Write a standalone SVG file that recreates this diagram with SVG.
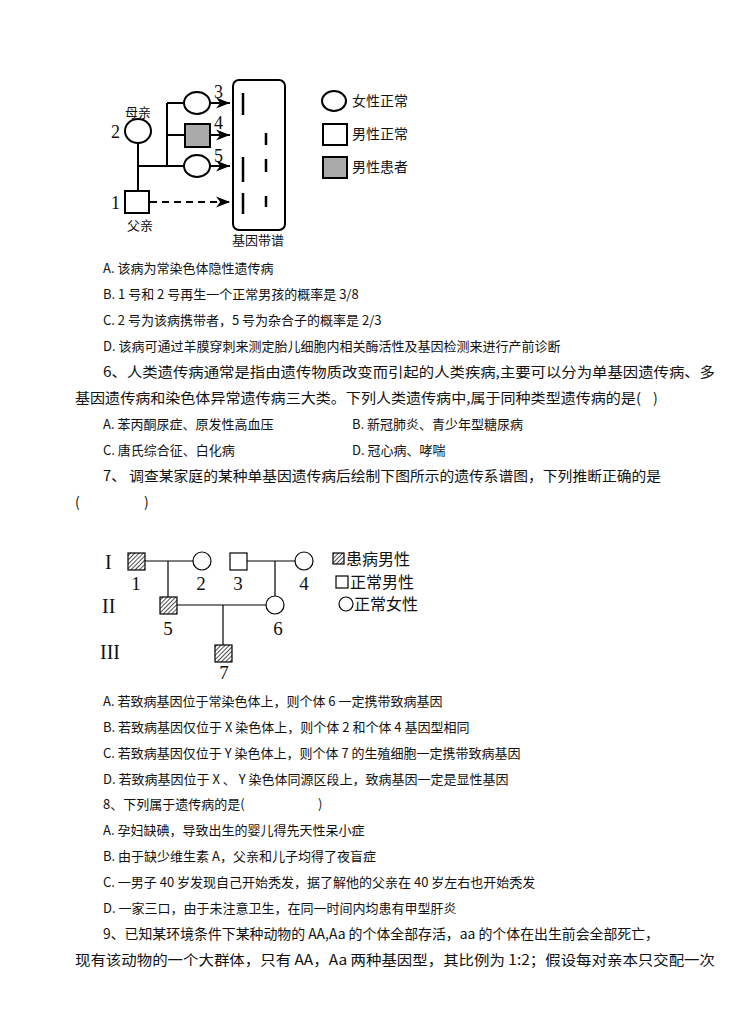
<svg xmlns="http://www.w3.org/2000/svg" width="737" height="1021" viewBox="0 0 737 1021">
<defs>
<style>
text{font-family:"Noto Sans CJK SC","Liberation Serif",serif;fill:#111}
.s{font-family:"Liberation Serif","Noto Sans CJK SC",serif}
.l{stroke:#000;stroke-width:2}
.t{stroke:#000;stroke-width:1.2}
.band{stroke:#000;stroke-width:2.5}
</style>
<marker id="ar" viewBox="0 0 10 10" refX="10" refY="5" markerWidth="7" markerHeight="7" orient="auto"><path d="M0,1 L10,5 L0,9 L3,5 Z" fill="#000"/></marker>
<pattern id="h" width="3" height="3" patternUnits="userSpaceOnUse" patternTransform="rotate(45)"><rect width="3" height="3" fill="#fff"/><line x1="0" y1="0" x2="0" y2="3" stroke="#000" stroke-width="1.4"/></pattern>
</defs>
<rect width="737" height="1021" fill="#fff"/>
<g id="connectors1" fill="none">
<path class="l" d="M138,144 V191 M138,166 H184 M167,103 V166 M167,103 H184 M167,135 H185"/>
<line class="l" x1="210" y1="103" x2="230" y2="103" marker-end="url(#ar)"/>
<line class="l" x1="210" y1="135" x2="230" y2="135" marker-end="url(#ar)"/>
<line class="l" x1="210" y1="166" x2="230" y2="166" marker-end="url(#ar)"/>
<line class="l" x1="150" y1="202" x2="230" y2="202" stroke-dasharray="7,5" marker-end="url(#ar)"/>
</g>
<g id="n2"><ellipse class="l" cx="138" cy="131" rx="13" ry="12" fill="#fff"/><text x="138" y="117" text-anchor="middle" font-size="13">母亲</text><text class="s" x="111" y="138" font-size="18">2</text></g>
<g id="n1"><rect class="l" x="125" y="191" width="24" height="22" fill="#fff"/><text class="s" x="111" y="209" font-size="18">1</text><text x="140" y="230" text-anchor="middle" font-size="13">父亲</text></g>
<g id="n3"><ellipse class="l" cx="197" cy="103" rx="13" ry="11" fill="#fff"/><text class="s" x="214" y="98" font-size="18">3</text></g>
<g id="n4"><rect class="l" x="185" y="124" width="25" height="23" fill="#aaa"/><text class="s" x="214" y="129" font-size="18">4</text></g>
<g id="n5"><ellipse class="l" cx="197" cy="166" rx="13" ry="11" fill="#fff"/><text class="s" x="214" y="162" font-size="18">5</text></g>
<g id="gel">
<rect class="l" x="233" y="80" width="52" height="150" rx="6" fill="none"/>
<path class="band" d="M243,93 V115 M243,157 V182 M243,193 V214 M266,133 V145 M266,159 V172 M266,196 V207"/>
<text x="258" y="245" text-anchor="middle" font-size="13">基因带谱</text>
</g>
<g id="legend1">
<ellipse class="l" cx="334" cy="101" rx="12" ry="10" fill="#fff"/><text x="352" y="106" font-size="14">女性正常</text>
<rect class="l" x="323" y="124" width="24" height="21" fill="#fff"/><text x="352" y="139" font-size="14">男性正常</text>
<rect class="l" x="323" y="157" width="24" height="21" fill="#aaa"/><text x="352" y="172" font-size="14">男性患者</text>
</g>
<g font-size="13">
<text x="103" y="273">A. 该病为常染色体隐性遗传病</text>
<text x="103" y="299">B.  1 号和 2 号再生一个正常男孩的概率是 3/8</text>
<text x="103" y="325">C.  2 号为该病携带者，5 号为杂合子的概率是 2/3</text>
<text x="103" y="351">D. 该病可通过羊膜穿刺来测定胎儿细胞内相关酶活性及基因检测来进行产前诊断</text>
</g>
<text x="103" y="377" font-size="14" textLength="612" lengthAdjust="spacingAndGlyphs">6、人类遗传病通常是指由遗传物质改变而引起的人类疾病,主要可以分为单基因遗传病、多</text>
<text x="75" y="403" font-size="14" textLength="566" lengthAdjust="spacingAndGlyphs">基因遗传病和染色体异常遗传病三大类。下列人类遗传病中,属于同种类型遗传病的是(</text>
<text x="653" y="403" font-size="14">)</text>
<g font-size="13">
<text x="103" y="429">A. 苯丙酮尿症、原发性高血压</text>
<text x="352" y="429">B. 新冠肺炎、青少年型糖尿病</text>
<text x="103" y="455">C. 唐氏综合征、白化病</text>
<text x="352" y="455">D. 冠心病、哮喘</text>
</g>
<text x="103" y="481" font-size="14" textLength="558" lengthAdjust="spacingAndGlyphs">7、   调查某家庭的某种单基因遗传病后绘制下图所示的遗传系谱图，下列推断正确的是</text>
<text x="75" y="507" font-size="14">(</text><text x="144" y="507" font-size="14">)</text>
<g id="connectors2" fill="none">
<path class="t" d="M145,561 H193 M168,561 V597 M247,561 H295 M275,561 V596 M177,605 H266 M223,605 V645"/>
</g>
<text x="105" y="569" class="s" font-size="20">I</text>
<text x="102" y="613" class="s" font-size="20">II</text>
<text x="100" y="659" class="s" font-size="20">III</text>
<g id="p1"><rect class="t" x="128" y="553" width="17" height="17" fill="url(#h)"/><text class="s" x="136" y="590" text-anchor="middle" font-size="19">1</text></g>
<g id="p2"><circle class="t" cx="202" cy="561" r="9" fill="#fff"/><text class="s" x="201" y="590" text-anchor="middle" font-size="19">2</text></g>
<g id="p3"><rect class="t" x="230" y="553" width="17" height="17" fill="#fff"/><text class="s" x="238" y="590" text-anchor="middle" font-size="19">3</text></g>
<g id="p4"><circle class="t" cx="304" cy="561" r="9" fill="#fff"/><text class="s" x="304" y="590" text-anchor="middle" font-size="19">4</text></g>
<g id="p5"><rect class="t" x="160" y="597" width="17" height="17" fill="url(#h)"/><text class="s" x="168" y="635" text-anchor="middle" font-size="19">5</text></g>
<g id="p6"><circle class="t" cx="275" cy="605" r="9" fill="#fff"/><text class="s" x="278" y="635" text-anchor="middle" font-size="19">6</text></g>
<g id="p7"><rect class="t" x="215" y="645" width="17" height="17" fill="url(#h)"/><text class="s" x="224" y="679" text-anchor="middle" font-size="19">7</text></g>
<g id="legend2">
<rect class="t" x="333" y="553" width="11" height="11" fill="url(#h)"/><text x="346" y="565" font-size="16">患病男性</text>
<rect class="t" x="336" y="576" width="12" height="12" fill="#fff"/><text x="350" y="588" font-size="16">正常男性</text>
<circle class="t" cx="346" cy="604" r="7" fill="#fff"/><text x="354" y="610" font-size="16">正常女性</text>
</g>
<g font-size="13">
<text x="103" y="706">A. 若致病基因位于常染色体上，则个体 6 一定携带致病基因</text>
<text x="103" y="732">B. 若致病基因仅位于 X 染色体上，则个体 2 和个体 4 基因型相同</text>
<text x="103" y="758">C. 若致病基因仅位于 Y 染色体上，则个体 7 的生殖细胞一定携带致病基因</text>
<text x="103" y="784">D. 若致病基因位于 X 、 Y 染色体同源区段上，致病基因一定是显性基因</text>
<text x="103" y="809">8、下列属于遗传病的是(</text><text x="318" y="809">)</text>
<text x="103" y="835">A. 孕妇缺碘，导致出生的婴儿得先天性呆小症</text>
<text x="103" y="861">B. 由于缺少维生素 A，父亲和儿子均得了夜盲症</text>
<text x="103" y="887">C. 一男子 40 岁发现自己开始秃发，据了解他的父亲在 40 岁左右也开始秃发</text>
<text x="103" y="913">D. 一家三口，由于未注意卫生，在同一时间内均患有甲型肝炎</text>
</g>
<text x="103" y="939" font-size="14" textLength="556" lengthAdjust="spacingAndGlyphs">9、已知某环境条件下某种动物的 AA,Aa 的个体全部存活，aa 的个体在出生前会全部死亡，</text>
<text x="75" y="965" font-size="14" textLength="640" lengthAdjust="spacingAndGlyphs">现有该动物的一个大群体，只有 AA，Aa 两种基因型，其比例为 1:2；假设每对亲本只交配一次</text>
</svg>
